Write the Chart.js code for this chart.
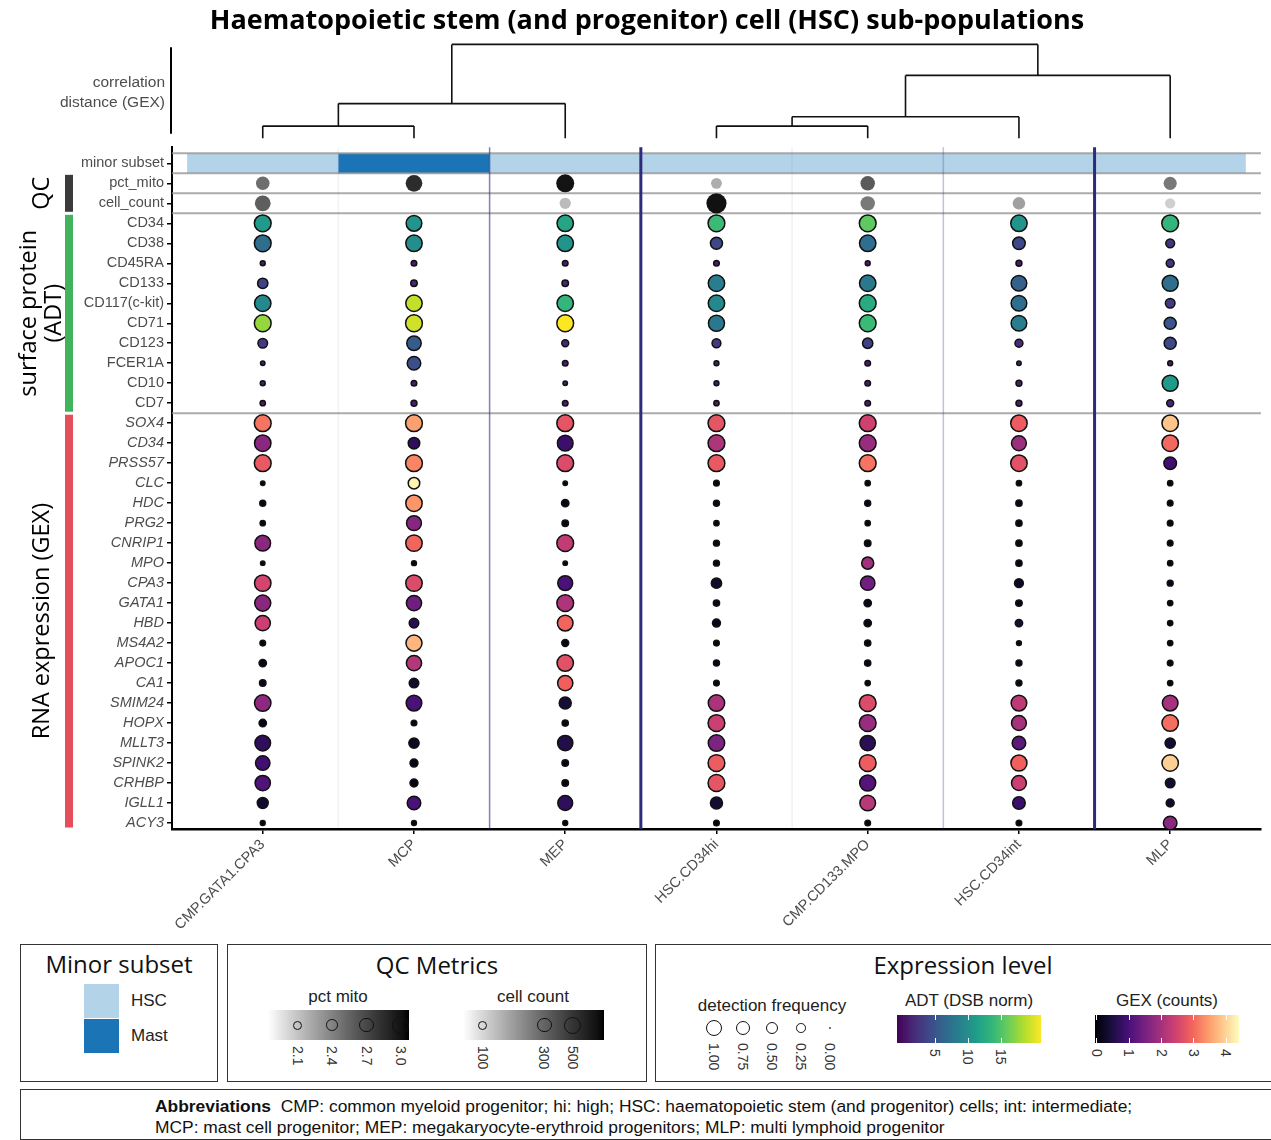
<!DOCTYPE html>
<html>
<head>
<meta charset="utf-8">
<title>HSC sub-populations</title>
<script src="https://cdn.jsdelivr.net/npm/chart.js@4.4.1/dist/chart.umd.min.js"></script>
<style>
  body { margin: 0; background: #fff; width: 1271px; height: 1140px; position: relative; overflow: hidden;
         font-family: "Liberation Sans", Arial, sans-serif; color: #222; }
  #wrap { position: absolute; left: 0; top: 0; width: 1271px; height: 940px; }
  .abs { position: absolute; white-space: nowrap; }
  .box { position: absolute; border: 1.5px solid #333; box-sizing: border-box; }
  .ttl { font-family: "Open Sans", sans-serif; font-size: 24px; color: #111; transform: translateX(-50%); }
  .sub { font-size: 17px; color: #222; transform: translateX(-50%); }
  .vt { writing-mode: vertical-rl; font-size: 14px; line-height: 16px; width: 16px; color: #333; }
</style>
</head>
<body>
<div id="wrap"><canvas id="myChart"></canvas></div>
<div id="legends"></div>
<script>
// ---- data ----
var categories = ['CMP.GATA1.CPA3', 'MCP', 'MEP', 'HSC.CD34hi', 'CMP.CD133.MPO', 'HSC.CD34int', 'MLP'];
var minorSubset = ['HSC', 'Mast', 'HSC', 'HSC', 'HSC', 'HSC', 'HSC'];
var pctMito = [2.5, 2.85, 3.0, 2.2, 2.6, null, 2.45];
var cellCount = [318, null, 128, 770, 241, 165, 107];

var adtMarkers = ['CD34', 'CD38', 'CD45RA', 'CD133', 'CD117(c-kit)', 'CD71', 'CD123', 'FCER1A', 'CD10', 'CD7'];
// rows = markers, columns = categories
var adtLevel = [
    [11, 10.5, 12, 14, 15.5, 10.5, 13.5],
    [7, 10, 10.5, 4, 7, 4, 2.5],
    [1, 1, 1, 1, 1, 1, 2.5],
    [3.5, 1.5, 1.5, 8.5, 8, 6, 7],
    [9.5, 19, 13.5, 9.5, 12.5, 7, 3],
    [17.5, 19.5, 21, 8, 14, 8.5, 5],
    [3, 5.5, 1.5, 3, 3.5, 2, 4],
    [1, 4.5, 1, 1, 1, 1, 1],
    [1, 1, 1, 1, 1, 1, 11],
    [1, 1, 1, 1, 1, 1, 1.5]
];
var adtFreq = [
    [1, 0.85, 0.95, 1, 1, 0.95, 1],
    [1, 0.95, 0.95, 0.45, 0.95, 0.5, 0.2],
    [0.03, 0.05, 0.05, 0.05, 0.03, 0.06, 0.15],
    [0.3, 0.08, 0.08, 0.95, 0.95, 0.85, 0.9],
    [0.95, 0.95, 0.95, 0.95, 1, 0.85, 0.25],
    [1, 1, 1, 0.9, 1, 0.85, 0.45],
    [0.25, 0.7, 0.1, 0.2, 0.3, 0.15, 0.45],
    [0.02, 0.6, 0.05, 0.03, 0.05, 0.02, 0.03],
    [0.03, 0.05, 0.02, 0.03, 0.05, 0.06, 0.9],
    [0.04, 0.06, 0.05, 0.04, 0.05, 0.06, 0.1]
];

var gexGenes = ['SOX4', 'CD34', 'PRSS57', 'CLC', 'HDC', 'PRG2', 'CNRIP1', 'MPO', 'CPA3', 'GATA1', 'HBD',
    'MS4A2', 'APOC1', 'CA1', 'SMIM24', 'HOPX', 'MLLT3', 'SPINK2', 'CRHBP', 'IGLL1', 'ACY3'];
var gexLevel = [
    [3.1, 3.5, 2.75, 2.75, 2.45, 2.85, 3.85],
    [1.7, 0.7, 0.85, 2.1, 1.85, 1.9, 3.0],
    [2.8, 3.25, 2.6, 2.8, 3.1, 2.7, 0.9],
    [0.1, 4.3, 0.1, 0.1, 0.1, 0.1, 0.1],
    [0.1, 3.4, 0.1, 0.1, 0.1, 0.1, 0.1],
    [0.1, 1.65, 0.1, 0.1, 0.1, 0.1, 0.1],
    [1.7, 2.95, 2.3, 0.1, 0.1, 0.1, 0.1],
    [0.1, 0.1, 0.1, 0.1, 1.95, 0.1, 0.1],
    [2.5, 2.6, 1.0, 0.3, 1.4, 0.25, 0.1],
    [1.7, 1.4, 2.1, 0.1, 0.1, 0.1, 0.1],
    [2.4, 0.6, 2.95, 0.1, 0.1, 0.4, 0.1],
    [0.1, 3.7, 0.1, 0.1, 0.1, 0.1, 0.1],
    [0.15, 2.15, 2.7, 0.1, 0.1, 0.1, 0.1],
    [0.15, 0.3, 2.9, 0.1, 0.1, 0.1, 0.1],
    [1.75, 1.0, 0.4, 2.05, 2.6, 2.25, 2.0],
    [0.1, 0.1, 0.1, 2.4, 1.85, 2.0, 3.05],
    [0.7, 0.2, 0.55, 1.55, 0.65, 1.2, 0.35],
    [0.9, 0.1, 0.1, 2.85, 2.85, 2.9, 3.95],
    [1.05, 0.1, 0.1, 2.75, 1.1, 2.4, 0.35],
    [0.3, 1.0, 0.7, 0.35, 2.2, 0.85, 0.3],
    [0.1, 0.1, 0.1, 0.1, 0.1, 0.1, 1.7]
];
var gexFreq = [
    [1, 1, 1, 1, 1, 0.95, 0.95],
    [0.95, 0.4, 0.85, 1, 1, 0.75, 0.95],
    [1, 1, 1, 1, 1, 0.95, 0.5],
    [0.02, 0.4, 0.02, 0.05, 0.04, 0.04, 0.04],
    [0.06, 0.95, 0.12, 0.06, 0.06, 0.07, 0.05],
    [0.04, 0.75, 0.08, 0.04, 0.04, 0.07, 0.05],
    [0.85, 0.95, 1, 0.06, 0.08, 0.07, 0.05],
    [0.02, 0.03, 0.02, 0.06, 0.45, 0.07, 0.04],
    [0.95, 0.95, 0.75, 0.3, 0.7, 0.2, 0.06],
    [0.9, 0.8, 1, 0.07, 0.12, 0.08, 0.04],
    [0.8, 0.25, 0.85, 0.15, 0.12, 0.12, 0.04],
    [0.05, 0.9, 0.1, 0.05, 0.07, 0.03, 0.04],
    [0.12, 0.8, 0.95, 0.06, 0.07, 0.06, 0.05],
    [0.08, 0.25, 0.8, 0.05, 0.04, 0.06, 0.04],
    [0.95, 0.85, 0.45, 0.95, 1, 0.85, 0.85],
    [0.12, 0.05, 0.07, 1, 1, 0.75, 0.95],
    [0.85, 0.3, 0.8, 0.95, 0.8, 0.6, 0.3],
    [0.7, 0.15, 0.08, 1, 1, 0.9, 0.95],
    [0.8, 0.15, 0.08, 1, 0.9, 0.75, 0.25],
    [0.35, 0.6, 0.75, 0.45, 0.85, 0.5, 0.15],
    [0.03, 0.03, 0.03, 0.05, 0.05, 0.05, 0.6]
];

// hclust-style merges: negative = leaf (position in categories), positive = earlier merge row
var dendroMerge = [[-1, -2, 0.13], [1, -3, 0.37], [-4, -5, 0.13], [3, -6, 0.23], [4, -7, 0.67], [2, 5, 1.0]];

// legend ticks / colour ranges
var pctMitoTicks = [2.1, 2.4, 2.7, 3.0];
var cellCountTicks = [100, 300, 500];
var freqTicks = [1.00, 0.75, 0.50, 0.25, 0.00];
var adtTicks = [5, 10, 15];
var gexTicks = [0, 1, 2, 3, 4];
var pctMitoRange = [1.84, 3.07];
var cellCountRange = [70, 871];
var adtRange = [-0.8, 21];
var gexRange = [-0.06, 4.4];

// ---- colour / size helpers ----
var subsetColors = {HSC: '#b3d3e8', Mast: '#1b74b5'};
var viridisStops = ['#440154', '#482878', '#3e4989', '#31688e', '#26828e', '#1f9e89', '#35b779', '#6ece58', '#b5de2b', '#fde725'];
var magmaStops = ['#000004', '#180f3d', '#440f76', '#721f81', '#9e2f7f', '#cd4071', '#f1605d', '#fd9668', '#feca8d', '#fcfdbf'];

function hexRgb(h) {
    return [parseInt(h.substr(1, 2), 16), parseInt(h.substr(3, 2), 16), parseInt(h.substr(5, 2), 16)];
}
function ramp(stops, t) {
    t = Math.max(0, Math.min(1, t));
    var p = t * (stops.length - 1);
    var i = Math.min(Math.floor(p), stops.length - 2);
    var f = p - i;
    var a = hexRgb(stops[i]), b = hexRgb(stops[i + 1]);
    var c = [0, 1, 2].map(function (k) { return Math.round(a[k] + (b[k] - a[k]) * f); });
    return 'rgb(' + c.join(',') + ')';
}
function greyRamp(t) {
    t = Math.max(0, Math.min(1, t));
    var L = 100 * (1 - t);
    var Y = L > 8 ? Math.pow((L + 16) / 116, 3) : L / 903.3;
    var s = Y <= 0.0031308 ? 12.92 * Y : 1.055 * Math.pow(Y, 1 / 2.4) - 0.055;
    var g = Math.round(255 * s);
    return 'rgb(' + g + ',' + g + ',' + g + ')';
}
function frac(v, range) { return (v - range[0]) / (range[1] - range[0]); }
function logFrac(v, range) { return (Math.log10(v) - Math.log10(range[0])) / (Math.log10(range[1]) - Math.log10(range[0])); }
function freqRadius(f) { return 1.2 + 7.2 * Math.sqrt(f); }
function mitoRadius(v) { return 5 + (v - 2.1) / 0.9 * 4; }
function countRadius(v) { return 5 + (Math.log10(v) - 2) / (Math.log10(500) - 2) * 4; }

// ---- build bubble data ----
var rowLabels = ['minor subset', 'pct_mito', 'cell_count'].concat(adtMarkers, gexGenes);
var firstAdtRow = 3;
var firstGexRow = firstAdtRow + adtMarkers.length;

var qcPoints = [], qcColors = [];
categories.forEach(function (c, i) {
    if (pctMito[i] !== null) {
        qcPoints.push({x: i + 1, y: 1, r: mitoRadius(pctMito[i])});
        qcColors.push(greyRamp(frac(pctMito[i], pctMitoRange)));
    }
    if (cellCount[i] !== null) {
        qcPoints.push({x: i + 1, y: 2, r: countRadius(cellCount[i])});
        qcColors.push(greyRamp(logFrac(cellCount[i], cellCountRange)));
    }
});

var exprPoints = [], exprColors = [];
adtMarkers.forEach(function (m, r) {
    categories.forEach(function (c, i) {
        exprPoints.push({x: i + 1, y: firstAdtRow + r, r: freqRadius(adtFreq[r][i])});
        exprColors.push(ramp(viridisStops, frac(adtLevel[r][i], adtRange)));
    });
});
gexGenes.forEach(function (g, r) {
    categories.forEach(function (c, i) {
        exprPoints.push({x: i + 1, y: firstGexRow + r, r: freqRadius(gexFreq[r][i])});
        exprColors.push(ramp(magmaStops, frac(gexLevel[r][i], gexRange)));
    });
});

// dendrogram nodes (x in category units, h = height)
function dendroNodes() {
    var nodes = [];
    dendroMerge.forEach(function (m) {
        var kids = [m[0], m[1]].map(function (k) {
            return k < 0 ? {x: -k, h: 0, lo: -k, hi: -k} : nodes[k - 1];
        });
        nodes.push({
            x: (kids[0].x + kids[1].x) / 2, h: m[2], kids: kids,
            lo: Math.min(kids[0].lo, kids[1].lo), hi: Math.max(kids[0].hi, kids[1].hi)
        });
    });
    return nodes;
}
var nodes = dendroNodes();
function boundaryHeight(b) { // height at which leaf b and b+1 join
    var best = null;
    nodes.forEach(function (n) {
        if (n.lo <= b && n.hi >= b + 1 && (best === null || n.h < best)) best = n.h;
    });
    return best;
}

var sidePanels = [
    {lines: ['QC'], from: 0.5, to: firstAdtRow - 0.5, color: '#3b3b3b'},
    {lines: ['surface protein', '(ADT)'], from: firstAdtRow - 0.5, to: firstGexRow - 0.5, color: '#40b35c'},
    {lines: ['RNA expression (GEX)'], from: firstGexRow - 0.5, to: 33.3, color: '#e54f5b'}
];
var rowBreaks = [-0.5, 0.5, 1.5, firstAdtRow - 0.5, firstGexRow - 0.5];

var decorPlugin = {
    id: 'decor',
    beforeDatasetsDraw: function (chart) {
        var ctx = chart.ctx, xs = chart.scales.x, ys = chart.scales.y;
        ctx.save();
        // minor subset tiles
        minorSubset.forEach(function (s, i) {
            var x0 = xs.getPixelForValue(i + 0.5), x1 = xs.getPixelForValue(i + 1.5);
            var y0 = ys.getPixelForValue(-0.5), y1 = ys.getPixelForValue(0.5);
            ctx.fillStyle = subsetColors[s];
            ctx.fillRect(x0, y0, x1 - x0, y1 - y0);
        });
        // row group separators
        ctx.strokeStyle = 'rgba(150,150,150,0.8)';
        ctx.lineWidth = 2;
        rowBreaks.forEach(function (r) {
            var y = ys.getPixelForValue(r);
            ctx.beginPath();
            ctx.moveTo(xs.left, y);
            ctx.lineTo(xs.right, y);
            ctx.stroke();
        });
        // column separators weighted by dendrogram height
        for (var b = 1; b < categories.length; b++) {
            var h = boundaryHeight(b);
            var x = xs.getPixelForValue(b + 0.5);
            ctx.strokeStyle = 'rgba(46,42,126,' + Math.max(0.05, Math.min(1, (h - 0.1) * 2.2)) + ')';
            ctx.lineWidth = h > 0.5 ? 3 : 1.5;
            ctx.beginPath();
            ctx.moveTo(x, ys.top);
            ctx.lineTo(x, ys.bottom);
            ctx.stroke();
        }
        ctx.restore();
    },
    afterDraw: function (chart) {
        var ctx = chart.ctx, xs = chart.scales.x, ys = chart.scales.y, yd = chart.scales.yd;
        ctx.save();
        // dendrogram
        ctx.strokeStyle = '#111';
        ctx.lineWidth = 1.6;
        nodes.forEach(function (n) {
            var yTop = yd.getPixelForValue(n.h);
            ctx.beginPath();
            n.kids.forEach(function (k) {
                var x = xs.getPixelForValue(k.x);
                ctx.moveTo(x, yd.getPixelForValue(k.h));
                ctx.lineTo(x, yTop);
            });
            ctx.moveTo(xs.getPixelForValue(n.kids[0].x), yTop);
            ctx.lineTo(xs.getPixelForValue(n.kids[1].x), yTop);
            ctx.stroke();
        });
        // dendrogram axis line + label
        ctx.strokeStyle = '#000';
        ctx.lineWidth = 2;
        ctx.beginPath();
        ctx.moveTo(xs.left - 1, yd.getPixelForValue(0.97));
        ctx.lineTo(xs.left - 1, yd.getPixelForValue(0.05));
        ctx.stroke();
        ctx.fillStyle = '#4d4d4d';
        ctx.font = '15.5px "Liberation Sans", Arial, sans-serif';
        ctx.textAlign = 'right';
        ctx.textBaseline = 'middle';
        var ym = yd.getPixelForValue(0.5);
        ctx.fillText('correlation', xs.left - 7, ym - 9);
        ctx.fillText('distance (GEX)', xs.left - 7, ym + 11);
        // side panels
        sidePanels.forEach(function (p) {
            var y0 = ys.getPixelForValue(p.from) + 1.5, y1 = ys.getPixelForValue(p.to) - 1.5;
            ctx.fillStyle = p.color;
            ctx.fillRect(65, y0, 8, y1 - y0);
            ctx.save();
            ctx.fillStyle = '#000';
            ctx.font = '23.5px "Open Sans", sans-serif';
            ctx.textAlign = 'center';
            ctx.textBaseline = 'middle';
            var yc = (y0 + y1) / 2;
            p.lines.forEach(function (line, k) {
                var x = 42 + (k - (p.lines.length - 1) / 2) * 25;
                ctx.save();
                ctx.translate(x, yc);
                ctx.rotate(-Math.PI / 2);
                ctx.fillText(line, 0, 0);
                ctx.restore();
            });
            ctx.restore();
        });
        ctx.restore();
    }
};

Chart.defaults.font.family = '"Liberation Sans", Arial, sans-serif';

var ctx = document.getElementById('myChart').getContext('2d');
var myChart = new Chart(ctx, {
    type: 'bubble',
    data: {
        datasets: [{
            label: 'QC',
            data: qcPoints,
            xAxisID: 'x',
            yAxisID: 'y',
            backgroundColor: qcColors,
            borderWidth: 0
        }, {
            label: 'expression',
            data: exprPoints,
            xAxisID: 'x',
            yAxisID: 'y',
            backgroundColor: exprColors,
            borderColor: '#111',
            borderWidth: 1.5
        }]
    },
    options: {
        responsive: true,
        maintainAspectRatio: false,
        animation: false,
        events: [],
        layout: {padding: {left: 32, right: 9, top: 0, bottom: 0}},
        plugins: {
            legend: {display: false},
            tooltip: {enabled: false},
            title: {
                display: true,
                text: 'Haematopoietic stem (and progenitor) cell (HSC) sub-populations',
                color: '#000',
                font: {family: '"Open Sans", sans-serif', size: 27, weight: 'bold'},
                padding: {top: 5, bottom: 7}
            }
        },
        scales: {
            x: {
                type: 'linear',
                min: 0.4,
                max: 7.6,
                afterBuildTicks: function (scale) {
                    scale.ticks = categories.map(function (c, i) { return {value: i + 1}; });
                },
                afterFit: function (scale) { scale.height = 111; },
                ticks: {
                    autoSkip: false,
                    maxRotation: 45,
                    minRotation: 45,
                    color: '#4d4d4d',
                    font: {size: 14.5},
                    padding: 2,
                    callback: function (v) { return categories[v - 1]; }
                },
                grid: {display: true, drawOnChartArea: false, color: '#000', tickLength: 5, lineWidth: 1.5},
                border: {color: '#000', width: 2.5}
            },
            yd: {
                type: 'linear',
                position: 'left',
                stack: 'left',
                stackWeight: 103,
                weight: 1,
                min: -0.096,
                max: 1,
                afterFit: function (scale) { scale.width = 140; },
                ticks: {display: false},
                grid: {display: false},
                border: {display: false}
            },
            y: {
                type: 'linear',
                position: 'left',
                stack: 'left',
                stackWeight: 682,
                weight: 0,
                min: -0.8,
                max: 33.3,
                reverse: true,
                afterBuildTicks: function (scale) {
                    scale.ticks = rowLabels.map(function (l, i) { return {value: i}; });
                },
                afterFit: function (scale) { scale.width = 140; },
                ticks: {
                    autoSkip: false,
                    color: '#4d4d4d',
                    padding: 3,
                    font: function (c) {
                        return {size: 14.5, style: c.index >= firstGexRow ? 'italic' : 'normal'};
                    },
                    callback: function (v) { return rowLabels[v]; }
                },
                grid: {display: true, drawOnChartArea: false, color: '#000', tickLength: 5, lineWidth: 1.5},
                border: {color: '#000', width: 2}
            }
        }
    },
    plugins: [decorPlugin]
});

// ---- legends (HTML) ----
var host = document.getElementById('legends');
function addEl(cls, style, text, html) {
    var d = document.createElement('div');
    d.className = cls;
    Object.keys(style).forEach(function (k) { d.style[k] = style[k]; });
    if (html) d.innerHTML = html; else if (text !== undefined && text !== null) d.textContent = text;
    host.appendChild(d);
    return d;
}
function gradientCss(fn, n) {
    var stops = [];
    for (var i = 0; i <= n; i++) stops.push(fn(i / n) + ' ' + (100 * i / n) + '%');
    return 'linear-gradient(to right,' + stops.join(',') + ')';
}
function circle(cx, cy, r, fill) {
    addEl('abs', {left: (cx - r) + 'px', top: (cy - r) + 'px', width: (2 * r) + 'px', height: (2 * r) + 'px',
        borderRadius: '50%', border: '1.5px solid #111', boxSizing: 'border-box', background: fill || 'transparent'});
}
function vlabel(x, top, text) {
    addEl('abs vt', {left: (x - 8) + 'px', top: top + 'px'}, text);
}

// Minor subset
addEl('box', {left: '20px', top: '944px', width: '198px', height: '138px'});
addEl('abs ttl', {left: '119px', top: '947px'}, 'Minor subset');
['HSC', 'Mast'].forEach(function (s, k) {
    addEl('abs', {left: '84px', top: (984 + 35 * k) + 'px', width: '35px', height: '34px', background: subsetColors[s]});
    addEl('abs', {left: '131px', top: (991 + 35 * k) + 'px', fontSize: '17px'}, s);
});

// QC metrics
addEl('box', {left: '227px', top: '944px', width: '420px', height: '138px'});
addEl('abs ttl', {left: '437px', top: '948px'}, 'QC Metrics');
addEl('abs sub', {left: '338px', top: '987px'}, 'pct mito');
addEl('abs', {left: '268px', top: '1010px', width: '141px', height: '30px', background: gradientCss(greyRamp, 20)});
pctMitoTicks.forEach(function (v) {
    var x = 268 + frac(v, pctMitoRange) * 141;
    circle(x, 1025, mitoRadius(v) - 0.5);
    vlabel(x, 1046, v.toFixed(1));
});
addEl('abs sub', {left: '533px', top: '987px'}, 'cell count');
addEl('abs', {left: '463px', top: '1010px', width: '141px', height: '30px', background: gradientCss(greyRamp, 20)});
cellCountTicks.forEach(function (v) {
    var x = 463 + logFrac(v, cellCountRange) * 141;
    circle(x, 1025, countRadius(v) - 0.5);
    vlabel(x, 1046, String(v));
});

// Expression level
addEl('box', {left: '655px', top: '944px', width: '640px', height: '138px'});
addEl('abs ttl', {left: '963px', top: '948px'}, 'Expression level');
addEl('abs sub', {left: '772px', top: '996px'}, 'detection frequency');
freqTicks.forEach(function (f, k) {
    var x = 714 + 29 * k;
    circle(x, 1028, freqRadius(f));
    vlabel(x, 1043, f.toFixed(2));
});
function colorBar(left, title, stops, range, ticks) {
    addEl('abs sub', {left: (left + 72) + 'px', top: '991px'}, title);
    addEl('abs', {left: left + 'px', top: '1015px', width: '144px', height: '28px',
        background: gradientCss(function (t) { return ramp(stops, t); }, 30)});
    ticks.forEach(function (v) {
        var x = left + frac(v, range) * 144;
        addEl('abs', {left: (x - 0.5) + 'px', top: '1015px', width: '1px', height: '5px', background: '#fff'});
        addEl('abs', {left: (x - 0.5) + 'px', top: '1038px', width: '1px', height: '5px', background: '#fff'});
        vlabel(x, 1049, String(v));
    });
}
colorBar(897, 'ADT (DSB norm)', viridisStops, adtRange, adtTicks);
colorBar(1095, 'GEX (counts)', magmaStops, gexRange, gexTicks);

// Abbreviations
addEl('box', {left: '20px', top: '1089px', width: '1270px', height: '51px'});
addEl('abs', {left: '155px', top: '1096px', fontSize: '17.4px', lineHeight: '21px', color: '#111'}, null,
    '<b>Abbreviations</b>&nbsp; CMP: common myeloid progenitor; hi: high; HSC: haematopoietic stem (and progenitor) cells; int: intermediate;<br>' +
    'MCP: mast cell progenitor; MEP: megakaryocyte-erythroid progenitors; MLP: multi lymphoid progenitor');
</script>
</body>
</html>
